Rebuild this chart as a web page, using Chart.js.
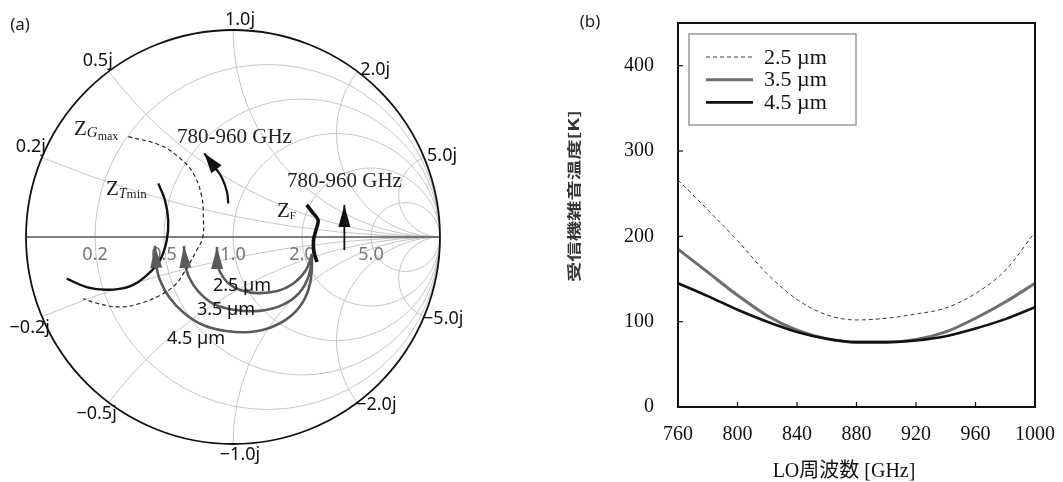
<!DOCTYPE html>
<html>
<head>
<meta charset="utf-8">
<script src="https://cdn.jsdelivr.net/npm/chart.js@4.4.0/dist/chart.umd.min.js"></script>
<style>
  html, body { margin: 0; padding: 0; background: #fff; }
  body { width: 1063px; height: 482px; position: relative; overflow: hidden; }
  #smith { position: absolute; left: 0; top: 0; }
  #trx { position: absolute; left: 560px; top: 0; }
</style>
</head>
<body>
<canvas id="smith" width="490" height="482"></canvas>
<canvas id="trx" width="503" height="482"></canvas>
<script>
// ─── (b) receiver noise temperature vs LO frequency ─────────
const freqGHz = [760, 780, 800, 820, 840, 860, 880, 900, 920, 940, 960, 980, 1000];
const trx25 = [266, 231, 195, 156, 126, 108, 102, 104, 109, 116, 133, 160, 205];
const trx35 = [185, 158, 131, 107, 90, 80, 76, 76, 79, 88, 104, 123, 145];
const trx45 = [145, 130, 114, 100, 88, 80, 76, 76, 78, 83, 92, 103, 117];
const seriesNames = ["2.5 µm", "3.5 µm", "4.5 µm"];
const xTicks = [760, 800, 840, 880, 920, 960, 1000];
const yTicks = [0, 100, 200, 300, 400];

// ─── (a) Smith chart: grid values and impedance loci (reflection plane) ──
const rGrid = [0.2, 0.5, 1.0, 2.0, 5.0];
const xGrid = [0.2, 0.5, 1.0, 2.0, 5.0];
const rLabels = ["0.2", "0.5", "1.0", "2.0", "5.0"];
const xLabels = ["0.2j", "0.5j", "1.0j", "2.0j", "5.0j"];

const tminU = [-0.361, -0.329, -0.313, -0.320, -0.353, -0.417, -0.498, -0.610, -0.707, -0.803];
const tminV = [0.259, 0.179, 0.082, -0.016, -0.113, -0.185, -0.238, -0.255, -0.242, -0.201];
const gmaxU = [-0.506, -0.353, -0.256, -0.192, -0.151, -0.143, -0.146, -0.175, -0.240, -0.280, -0.353, -0.449, -0.546, -0.643, -0.723];
const gmaxV = [0.485, 0.444, 0.380, 0.308, 0.195, 0.082, 0.000, -0.064, -0.177, -0.232, -0.282, -0.321, -0.338, -0.324, -0.298];
const zfU = [0.356, 0.382, 0.411, 0.401, 0.389, 0.391, 0.406];
const zfV = [0.155, 0.121, 0.082, 0.034, -0.014, -0.072, -0.121];
const sweepAU = [-0.023, -0.029, -0.053, -0.092, -0.139];
const sweepAV = [0.163, 0.217, 0.285, 0.343, 0.404];
const sweepBU = [0.538, 0.538];
const sweepBV = [-0.063, 0.155];
const arc25U = [0.382, 0.353, 0.295, 0.213, 0.116, 0.034, -0.024, -0.063, -0.077, -0.077];
const arc25V = [-0.082, -0.159, -0.222, -0.261, -0.271, -0.256, -0.222, -0.169, -0.121, -0.048];
const arc35U = [0.382, 0.367, 0.319, 0.237, 0.130, 0.014, -0.092, -0.169, -0.213, -0.232, -0.237];
const arc35V = [-0.082, -0.184, -0.271, -0.329, -0.357, -0.353, -0.324, -0.261, -0.193, -0.126, -0.043];
const arc45U = [0.382, 0.377, 0.348, 0.285, 0.188, 0.082, -0.034, -0.145, -0.237, -0.309, -0.353, -0.372, -0.377];
const arc45V = [-0.082, -0.198, -0.295, -0.377, -0.435, -0.459, -0.454, -0.425, -0.367, -0.290, -0.208, -0.130, -0.043];

const SERIF = '"Liberation Serif", "Times New Roman", serif';
const SANS = '"Noto Sans", "DejaVu Sans", sans-serif';

const pts = (xs, ys) => xs.map((x, i) => ({ x, y: ys[i] }));

function drawRuns(ctx, x, y, runs) {
  ctx.textAlign = "left";
  ctx.textBaseline = "alphabetic";
  runs.forEach(([t, font, dy]) => {
    ctx.font = font;
    ctx.fillText(t, x, y + dy);
    x += ctx.measureText(t).width;
  });
}

// ─── Smith chart ─────────────────────────────────────────
const smithPlugin = {
  id: "smithGrid",
  beforeDatasetsDraw(chart) {
    const { ctx, scales: { x, y } } = chart;
    const px = u => x.getPixelForValue(u), py = v => y.getPixelForValue(v);
    const R = px(1) - px(0);
    ctx.save();
    ctx.beginPath(); ctx.arc(px(0), py(0), R, 0, 2 * Math.PI); ctx.clip();
    ctx.strokeStyle = "#c6c6c6"; ctx.lineWidth = 1;
    rGrid.forEach(r => {
      ctx.beginPath(); ctx.arc(px(r / (r + 1)), py(0), R / (r + 1), 0, 2 * Math.PI); ctx.stroke();
    });
    xGrid.forEach(xx => [1, -1].forEach(s => {
      ctx.beginPath(); ctx.arc(px(1), py(s / xx), R / xx, 0, 2 * Math.PI); ctx.stroke();
    }));
    ctx.restore();

    ctx.save();
    ctx.strokeStyle = "#555"; ctx.lineWidth = 1.5;
    ctx.beginPath(); ctx.moveTo(px(-1), py(0)); ctx.lineTo(px(1), py(0)); ctx.stroke();
    ctx.strokeStyle = "#111"; ctx.lineWidth = 1.8;
    ctx.beginPath(); ctx.arc(px(0), py(0), R, 0, 2 * Math.PI); ctx.stroke();

    // resistance labels
    ctx.fillStyle = "#777"; ctx.font = "18px " + SANS;
    ctx.textAlign = "center"; ctx.textBaseline = "alphabetic";
    rGrid.forEach((r, i) => ctx.fillText(rLabels[i], px((r - 1) / (r + 1)), py(0) + 23));

    // reactance labels
    ctx.fillStyle = "#111";
    xGrid.forEach((xx, i) => [1, -1].forEach(s => {
      const t = s * xx;
      const u = (t * t - 1) / (t * t + 1), v = 2 * t / (t * t + 1);
      const bx = px(u), by = py(v);
      const txt = (s < 0 ? "\u2212" : "") + xLabels[i];
      if (Math.abs(u) < 0.05) {
        ctx.textAlign = "center";
        ctx.fillText(txt, bx + 7, v > 0 ? by - 5 : by + 16);
      } else if (u > 0) {
        ctx.textAlign = "left";
        ctx.fillText(txt, bx + (v > 0 ? 3 : -1), by + (v > 0 ? 4 : 7));
      } else {
        ctx.textAlign = "right";
        ctx.fillText(txt, bx + (v > 0 ? 4 : 8), v > 0 ? by - 5 : by + 16);
      }
    }));
    ctx.restore();
  },
  afterDatasetsDraw(chart) {
    const { ctx } = chart;
    ctx.save();
    chart.data.datasets.forEach((ds, i) => {
      if (!ds.arrow) return;
      const els = chart.getDatasetMeta(i).data;
      const a = els[els.length - 2], b = els[els.length - 1];
      const dx = b.x - a.x, dy = b.y - a.y, d = Math.hypot(dx, dy);
      const ux = dx / d, uy = dy / d;
      const [len, half] = ds.arrow;
      ctx.fillStyle = ds.borderColor;
      ctx.beginPath();
      ctx.moveTo(b.x, b.y);
      ctx.lineTo(b.x - ux * len - uy * half, b.y - uy * len + ux * half);
      ctx.lineTo(b.x - ux * len + uy * half, b.y - uy * len - ux * half);
      ctx.closePath(); ctx.fill();
    });

    ctx.fillStyle = "#222";
    drawRuns(ctx, 74, 135, [["Z", "21px " + SERIF, 0], ["G", "italic 15px " + SERIF, 2], ["max", "12px " + SERIF, 5]]);
    drawRuns(ctx, 106, 195, [["Z", "21px " + SERIF, 0], ["T", "italic 14px " + SERIF, 3], ["min", "13px " + SERIF, 3]]);
    drawRuns(ctx, 277, 217, [["Z", "21px " + SERIF, 0], ["F", "11px " + SERIF, 2]]);
    drawRuns(ctx, 177, 143, [["780-960 GHz", "21px " + SERIF, 0]]);
    drawRuns(ctx, 287, 187, [["780-960 GHz", "21px " + SERIF, 0]]);

    ctx.fillStyle = "#111";
    drawRuns(ctx, 213, 291, [[seriesNames[0], "18px " + SANS, 0]]);
    drawRuns(ctx, 197, 315, [[seriesNames[1], "18px " + SANS, 0]]);
    drawRuns(ctx, 167, 344, [[seriesNames[2], "18px " + SANS, 0]]);

    ctx.fillStyle = "#222";
    ctx.font = "17px " + SANS; ctx.textAlign = "center"; ctx.textBaseline = "middle";
    ctx.fillText("(a)", 20, 25);
    ctx.restore();
  }
};

const locus = (data, color, width, extra) => ({
  data, borderColor: color, backgroundColor: color, borderWidth: width,
  showLine: true, pointRadius: 0, tension: 0.4, fill: false, ...extra
});

new Chart(document.getElementById("smith"), {
  type: "scatter",
  data: {
    datasets: [
      locus(pts(gmaxU, gmaxV), "#222", 1.2, { borderDash: [4, 3] }),
      locus(pts(tminU, tminV), "#111", 2.4),
      locus(pts(arc45U, arc45V), "#5a5a5a", 2.6, { arrow: [22, 6] }),
      locus(pts(arc35U, arc35V), "#5a5a5a", 2.6, { arrow: [22, 6] }),
      locus(pts(arc25U, arc25V), "#5a5a5a", 2.6, { arrow: [22, 6] }),
      locus(pts(sweepAU, sweepAV), "#111", 2.2, { arrow: [20, 6.5] }),
      locus(pts(sweepBU, sweepBV), "#111", 1.8, { arrow: [22, 6] }),
      locus(pts(zfU, zfV), "#111", 3.6, { tension: 0.3 }),
    ]
  },
  options: {
    responsive: false,
    animation: false,
    events: [],
    layout: { padding: { left: 26, top: 30, right: 50, bottom: 38 } },
    plugins: { legend: { display: false }, tooltip: { enabled: false } },
    scales: {
      x: { type: "linear", min: -1, max: 1, display: false },
      y: { type: "linear", min: -1, max: 1, display: false }
    }
  },
  plugins: [smithPlugin]
});

// ─── Trx chart ───────────────────────────────────────────
const trxDecor = {
  id: "trxDecor",
  afterDraw(chart) {
    const { ctx, chartArea: a, scales: { x, y } } = chart;
    ctx.save();
    ctx.strokeStyle = "#111"; ctx.lineWidth = 1.2;
    xTicks.forEach(v => {
      const p = x.getPixelForValue(v);
      ctx.beginPath(); ctx.moveTo(p, a.bottom); ctx.lineTo(p, a.bottom - 5); ctx.stroke();
    });
    yTicks.forEach(v => {
      const p = y.getPixelForValue(v);
      ctx.beginPath(); ctx.moveTo(a.left, p); ctx.lineTo(a.left + 5, p); ctx.stroke();
    });
    ctx.lineWidth = 2;
    ctx.strokeRect(a.left, a.top, a.right - a.left, a.bottom - a.top);

    // legend box
    const bx = a.left + 11, by = a.top + 11, bw = 167, bh = 91;
    ctx.fillStyle = "#fff"; ctx.fillRect(bx, by, bw, bh);
    ctx.strokeStyle = "#808080"; ctx.lineWidth = 1.2;
    ctx.strokeRect(bx, by, bw, bh);
    ctx.font = "22px " + SERIF; ctx.textAlign = "left"; ctx.textBaseline = "middle";
    seriesNames.forEach((name, i) => {
      const ds = chart.data.datasets[i];
      const ry = by + 23 + i * 22.7;
      ctx.strokeStyle = ds.borderColor; ctx.lineWidth = ds.borderWidth;
      ctx.setLineDash(ds.borderDash || []);
      ctx.beginPath(); ctx.moveTo(bx + 17, ry); ctx.lineTo(bx + 64, ry); ctx.stroke();
      ctx.setLineDash([]);
      ctx.fillStyle = "#111";
      ctx.fillText(name, bx + 75, ry + 1);
    });

    // axis titles
    ctx.fillStyle = "#111";
    ctx.font = "20px " + SERIF + ', "Noto Sans CJK JP"';
    ctx.textAlign = "center"; ctx.textBaseline = "middle";
    ctx.fillText("LO周波数 [GHz]", 284, 472);

    const yt = "受信機雑音温度[K]";
    ctx.fillStyle = "#333";
    ctx.font = 'bold 14px "Noto Sans CJK JP", sans-serif';
    const w = ctx.measureText(yt).width;
    ctx.translate(14, 196);
    ctx.rotate(-Math.PI / 2);
    ctx.scale(172 / w, 1);
    ctx.fillText(yt, 0, 0);
    ctx.setTransform(1, 0, 0, 1, 0, 0);

    ctx.fillStyle = "#222";
    ctx.font = "17px " + SANS;
    ctx.fillText("(b)", 30, 22);
    ctx.restore();
  }
};

new Chart(document.getElementById("trx"), {
  type: "line",
  data: {
    datasets: [
      { label: seriesNames[0], data: pts(freqGHz, trx25), borderColor: "#3c3c3c", borderWidth: 1, borderDash: [4, 3], order: 2 },
      { label: seriesNames[1], data: pts(freqGHz, trx35), borderColor: "#6e6e6e", borderWidth: 3, order: 1 },
      { label: seriesNames[2], data: pts(freqGHz, trx45), borderColor: "#111", borderWidth: 2.6, order: 0 },
    ]
  },
  options: {
    responsive: false,
    animation: false,
    events: [],
    layout: { padding: { left: 0, top: 23, right: 22, bottom: 0 } },
    plugins: { legend: { display: false }, tooltip: { enabled: false } },
    elements: {
      point: { radius: 0 },
      line: { cubicInterpolationMode: "monotone", fill: false }
    },
    scales: {
      x: {
        type: "linear", min: 760, max: 1000,
        grid: { display: false }, border: { display: false },
        afterBuildTicks: ax => { ax.ticks = xTicks.map(v => ({ value: v })); },
        afterFit: ax => { ax.height = 75; },
        ticks: { color: "#111", font: { family: SERIF, size: 20 }, padding: 8, maxRotation: 0, callback: v => String(v) }
      },
      y: {
        type: "linear", min: 0, max: 450,
        grid: { display: true, drawOnChartArea: false, drawTicks: true, tickLength: 24, tickColor: "rgba(0,0,0,0)" },
        border: { display: false },
        afterBuildTicks: ax => { ax.ticks = yTicks.map(v => ({ value: v })); },
        afterFit: ax => { ax.width = 118; },
        ticks: { color: "#111", font: { family: SERIF, size: 20 }, padding: 0, callback: v => String(v) }
      }
    }
  },
  plugins: [trxDecor]
});
</script>
</body>
</html>
